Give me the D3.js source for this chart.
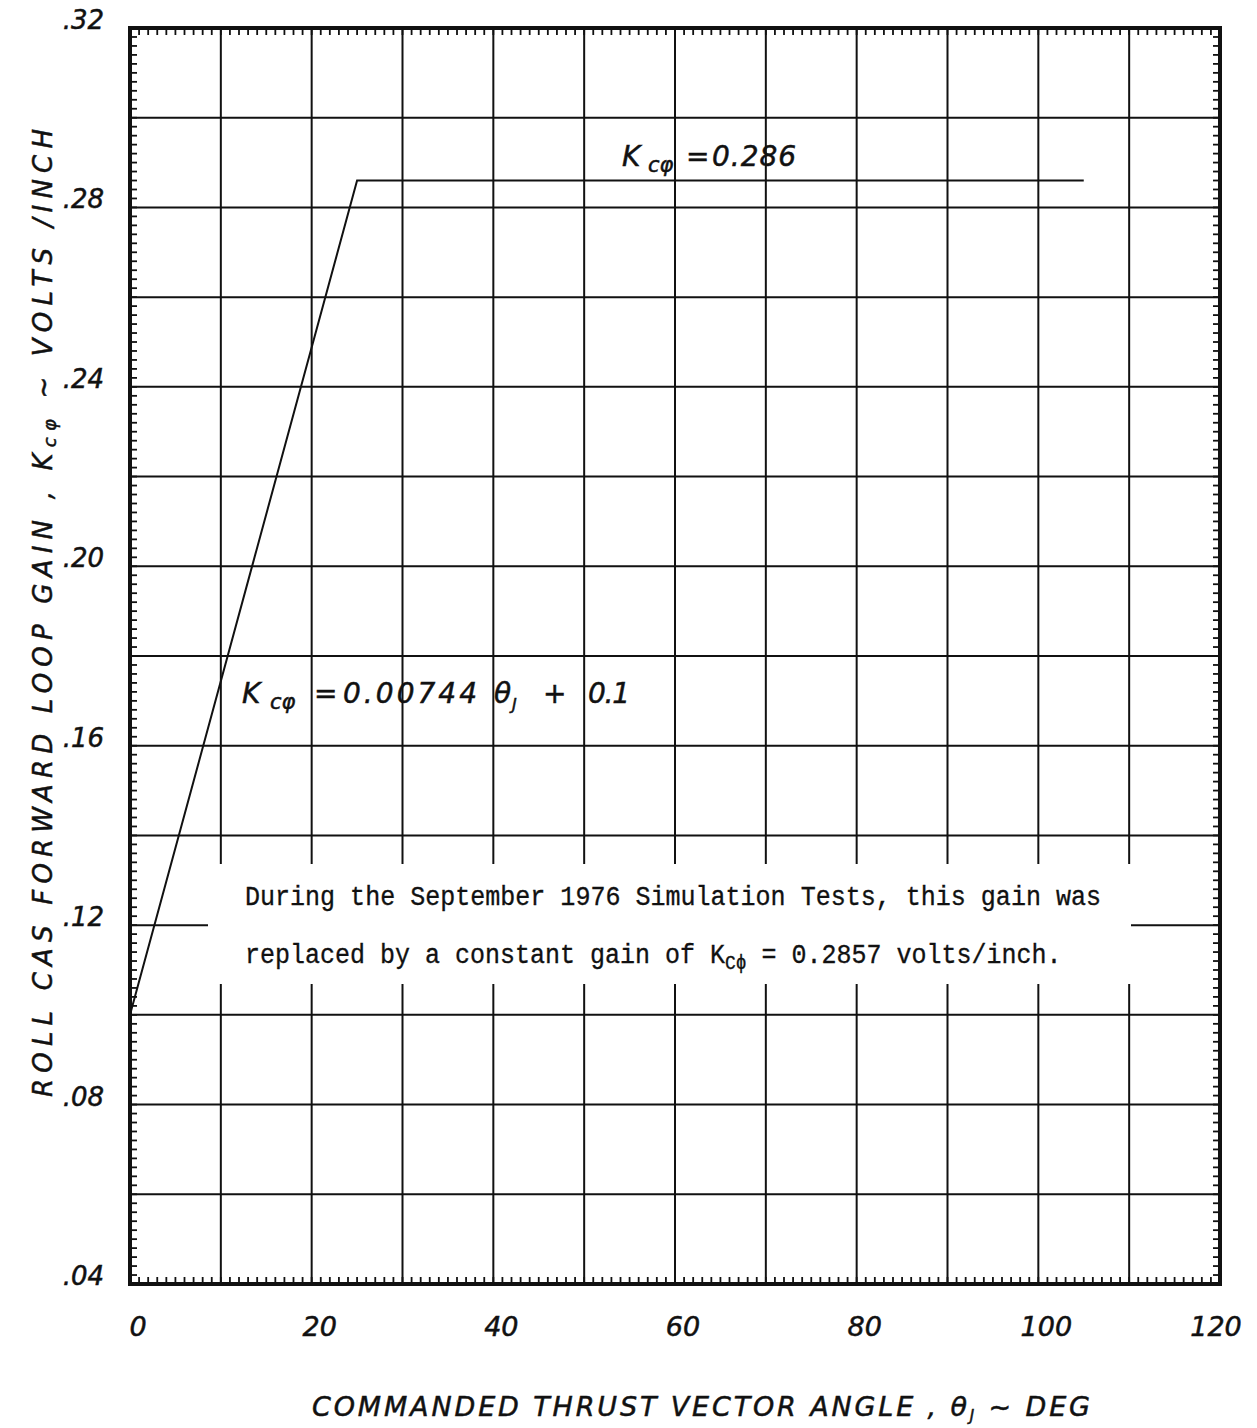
<!DOCTYPE html>
<html>
<head>
<meta charset="utf-8">
<script src="https://cdn.jsdelivr.net/npm/d3@7/dist/d3.min.js"></script>
<style>
  html, body { margin: 0; padding: 0; background: #fff; }
  svg { display: block; }
  .hand { font-family: "DejaVu Sans", "Liberation Sans", sans-serif; font-style: italic; fill: #111; stroke: #111; stroke-width: 0.5; }
  .type { font-family: "Liberation Mono", "DejaVu Sans Mono", monospace; fill: #111; stroke: #111; stroke-width: 0.3; }
</style>
</head>
<body>
<svg id="chart" width="1257" height="1428"></svg>
<script>
// Roll CAS forward loop gain schedule versus commanded thrust vector angle
const thetaDeg = [0, 25, 105];            // breakpoints, deg
const gainKc   = [0.100, 0.286, 0.286];   // gain at each breakpoint, volts/inch

const xTickValues = [0, 20, 40, 60, 80, 100, 120];
const xTickLabels = ["0", "20", "40", "60", "80", "100", "120"];
const yTickValues = [0.32, 0.28, 0.24, 0.20, 0.16, 0.12, 0.08, 0.04];
const yTickLabels = [".32", ".28", ".24", ".20", ".16", ".12", ".08", ".04"];

const xGridValues = d3.range(0, 121, 10);
const yGridValues = d3.range(0.04, 0.3201, 0.02);
const xMinorValues = d3.range(0, 121, 1);
const yMinorValues = d3.range(0.04, 0.3201, 0.002);

const noteLines = [
  "During the September 1976 Simulation Tests, this gain was",
  "replaced by a constant gain of "
];

const svg = d3.select("#chart");
const x = d3.scaleLinear().domain([0, 120]).range([130, 1220]);
const y = d3.scaleLinear().domain([0.04, 0.32]).range([1284, 28]);

const g = svg.append("g");

// grid
g.append("g").selectAll("line").data(xGridValues).join("line")
  .attr("x1", d => x(d)).attr("x2", d => x(d))
  .attr("y1", y(0.32)).attr("y2", y(0.04))
  .attr("stroke", "#111").attr("stroke-width", 2);
g.append("g").selectAll("line").data(yGridValues).join("line")
  .attr("x1", x(0)).attr("x2", x(120))
  .attr("y1", d => y(d)).attr("y2", d => y(d))
  .attr("stroke", "#111").attr("stroke-width", 2);

// minor ticks on all four borders, pointing inward
const tk = 7;
const minor = g.append("g").attr("stroke", "#111").attr("stroke-width", 1.8);
minor.selectAll(".tb").data(xMinorValues).join("line").attr("class", "tb")
  .attr("x1", d => x(d)).attr("x2", d => x(d))
  .attr("y1", y(0.32)).attr("y2", y(0.32) + tk);
minor.selectAll(".bb").data(xMinorValues).join("line").attr("class", "bb")
  .attr("x1", d => x(d)).attr("x2", d => x(d))
  .attr("y1", y(0.04)).attr("y2", y(0.04) - tk);
minor.selectAll(".lb").data(yMinorValues).join("line").attr("class", "lb")
  .attr("x1", x(0)).attr("x2", x(0) + tk)
  .attr("y1", d => y(d)).attr("y2", d => y(d));
minor.selectAll(".rb").data(yMinorValues).join("line").attr("class", "rb")
  .attr("x1", x(120)).attr("x2", x(120) - tk)
  .attr("y1", d => y(d)).attr("y2", d => y(d));

// white panel behind the typed note
g.append("rect")
  .attr("x", 208).attr("y", 864).attr("width", 923).attr("height", 120)
  .attr("fill", "#fff");

// frame
g.append("rect")
  .attr("x", x(0)).attr("y", y(0.32))
  .attr("width", x(120) - x(0)).attr("height", y(0.04) - y(0.32))
  .attr("fill", "none").attr("stroke", "#111").attr("stroke-width", 4);

// gain schedule
const pts = thetaDeg.map((t, i) => [t, gainKc[i]]);
g.append("path")
  .datum(pts)
  .attr("d", d3.line().x(d => x(d[0])).y(d => y(d[1])))
  .attr("fill", "none").attr("stroke", "#111").attr("stroke-width", 2);

// tick labels
g.append("g").selectAll("text").data(xTickValues).join("text")
  .attr("class", "hand")
  .attr("x", (d, i) => x(d) + (i === xTickValues.length - 1 ? -4 : 8)).attr("y", 1336)
  .attr("text-anchor", "middle").attr("font-size", 27)
  .text((d, i) => xTickLabels[i]);
g.append("g").selectAll("text").data(yTickValues).join("text")
  .attr("class", "hand")
  .attr("x", 104).attr("y", d => y(d) + 1)
  .attr("text-anchor", "end").attr("font-size", 26)
  .text((d, i) => yTickLabels[i]);

// axis titles
const xt = g.append("text").attr("class", "hand")
  .attr("x", 312).attr("y", 1416).attr("font-size", 27)
  .attr("textLength", 778).attr("lengthAdjust", "spacing");
xt.append("tspan").text("COMMANDED  THRUST  VECTOR ANGLE ,  θ");
xt.append("tspan").attr("font-size", 15).attr("dy", 5).text("J");
xt.append("tspan").attr("dy", -5).text(" ~ DEG");

const yt = g.append("text").attr("class", "hand")
  .attr("transform", "translate(52,1097) rotate(-90)")
  .attr("font-size", 26)
  .attr("textLength", 968).attr("lengthAdjust", "spacing");
yt.append("tspan").text("ROLL  CAS  FORWARD  LOOP  GAIN ,  K");
yt.append("tspan").attr("font-size", 18).attr("dy", 4).text("cφ");
yt.append("tspan").attr("dy", -4).text("  ~  VOLTS /INCH");

// handwritten annotations on the curve
const a1 = g.append("text").attr("class", "hand").attr("font-size", 28)
  .attr("y", 166);
a1.append("tspan").attr("x", 622).text("K");
a1.append("tspan").attr("x", 648).attr("font-size", 21).attr("dy", 6).text("cφ");
a1.append("tspan").attr("x", 686).attr("dy", -6).text("=");
a1.append("tspan").attr("x", 712).attr("textLength", 84).text("0.286");

const a2 = g.append("text").attr("class", "hand").attr("font-size", 28)
  .attr("y", 703);
a2.append("tspan").attr("x", 242).text("K");
a2.append("tspan").attr("x", 270).attr("font-size", 21).attr("dy", 6).text("cφ");
a2.append("tspan").attr("x", 314).attr("dy", -6).text("=");
a2.append("tspan").attr("x", 343).attr("textLength", 134).text("0.00744");
a2.append("tspan").attr("x", 494).text("θ");
a2.append("tspan").attr("x", 512).attr("font-size", 16).attr("dy", 7).text("J");
a2.append("tspan").attr("x", 543).attr("dy", -7).text("+");
a2.append("tspan").attr("x", 588).attr("textLength", 42).text("0.1");

// typed note
const note = g.append("g").attr("transform", "translate(245,0) scale(1,1.12)");
note.append("text").attr("class", "type").attr("font-size", 25)
  .attr("x", 0).attr("y", 905 / 1.12)
  .attr("textLength", 856).attr("lengthAdjust", "spacingAndGlyphs")
  .text(noteLines[0]);
const n2 = note.append("text").attr("class", "type").attr("font-size", 25)
  .attr("x", 0).attr("y", 963 / 1.12);
n2.append("tspan").text(noteLines[1] + "K");
n2.append("tspan").attr("font-size", 18).attr("dy", 5).text("Cϕ");
n2.append("tspan").attr("dy", -5).text(" = 0.2857 volts/inch.");
</script>
</body>
</html>
